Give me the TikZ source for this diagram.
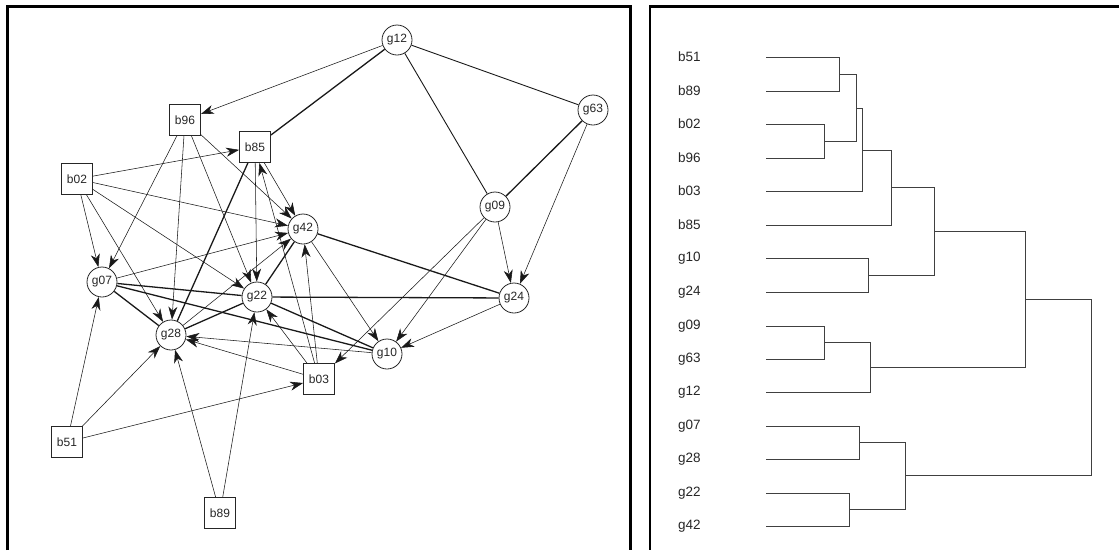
\documentclass[tikz,border=0pt]{standalone}
\usepackage{fontspec}
\setmainfont{Liberation Sans}
\usetikzlibrary{arrows.meta,backgrounds}
\begin{document}
\begin{tikzpicture}[x=1pt,y=-1pt,
 gnode/.style={circle,draw=black!85,line width=0.8pt,fill=white,minimum size=30pt,inner sep=0pt,font=\fontsize{12}{14}\selectfont,text=black!85},
 bnode/.style={rectangle,draw=black!85,line width=0.8pt,fill=white,minimum width=31pt,minimum height=31pt,inner sep=0pt,font=\fontsize{12}{14}\selectfont,text=black!85},
 arr/.style={-{Stealth[length=13pt,width=9pt,inset=4pt]},line width=0.55pt,draw=black!90},
 tie/.style={line width=1.3pt,draw=black!90},
 mtie/.style={line width=0.9pt,draw=black!90},
 dlab/.style={anchor=west,inner sep=0pt,font=\fontsize{13.5}{15}\selectfont,text=black!85},
 dend/.style={line width=0.7pt,draw=black!75},
 frame/.style={line width=3pt,draw=black},
 thinframe/.style={line width=1.8pt,draw=black}
]
\useasboundingbox (0,0) rectangle (1119,550);
% panel frames
\draw[frame] (7,550) -- (7,6.5) -- (630,6.5) -- (630,550);
\draw[frame] (649,6.5) -- (1119,6.5);
\draw[thinframe] (650,6.5) -- (650,550);

% graph nodes
\node[gnode] (g12) at (397,40) {g12};
\node[gnode] (g63) at (593,110) {g63};
\node[gnode] (g09) at (495,207) {g09};
\node[gnode] (g42) at (303,229) {g42};
\node[gnode] (g24) at (514,298) {g24};
\node[gnode] (g22) at (257,297) {g22};
\node[gnode] (g07) at (102,282) {g07};
\node[gnode] (g28) at (171,335) {g28};
\node[gnode] (g10) at (387,354) {g10};
\node[bnode] (b96) at (185,120) {b96};
\node[bnode] (b85) at (255,147) {b85};
\node[bnode] (b02) at (77,179) {b02};
\node[bnode] (b03) at (319,379) {b03};
\node[bnode] (b51) at (67,442) {b51};
\node[bnode] (b89) at (220,513) {b89};

\begin{scope}[on background layer]
% undirected ties
\draw[tie] (g12) -- (b85);
\draw[mtie] (g12) -- (g09);
\draw[mtie] (g12) -- (g63);
\draw[tie] (g63) -- (g09);
\draw[tie] (g42) -- (g24);
\draw[tie] (g22) -- (g24);
\draw[tie] (g22) -- (g10);
\draw[tie] (g07) -- (g22);
\draw[tie] (g07) -- (g10);
\draw[tie] (g07) -- (g28);
\draw[tie] (g28) -- (g22);
\draw[tie] (g28) -- (b85);
\draw[tie] (g22) -- (g42);
% directed ties
\draw[arr] (g12) -- (b96);
\draw[arr] (g63) -- (g24);
\draw[arr] (g09) -- (g24);
\draw[arr] (g09) -- (g10);
\draw[arr] (g09) -- (b03);
\draw[arr] (g42) -- (g10);
\draw[arr] (g24) -- (g10);
\draw[arr] (b03) -- (g42);
\draw[arr] (b03) -- (b85);
\draw[arr] (b85) -- (g42);
\draw[arr] (b96) -- (g42);
\draw[arr] (b02) -- (g42);
\draw[arr] (g07) -- (g42);
\draw[arr] (g28) -- (g42);
\draw[arr] (g10) -- (g28);
\draw[arr] (b03) -- (g28);
\draw[arr] (b03) -- (g22);
\draw[arr] (b89) -- (g22);
\draw[arr] (b89) -- (g28);
\draw[arr] (b51) -- (g28);
\draw[arr] (b51) -- (g07);
\draw[arr] (b51) -- (b03);
\draw[arr] (b02) -- (b85);
\draw[arr] (b02) -- (g07);
\draw[arr] (b02) -- (g28);
\draw[arr] (b02) -- (g22);
\draw[arr] (b96) -- (g07);
\draw[arr] (b96) -- (g28);
\draw[arr] (b96) -- (g22);
\draw[arr] (b85) -- (g22);
\end{scope}

% dendrogram labels
\node[dlab] (lb51) at (678,57) {b51};
\node[dlab] (lb89) at (678,91) {b89};
\node[dlab] (lb02) at (678,124) {b02};
\node[dlab] (lb96) at (678,158) {b96};
\node[dlab] (lb03) at (678,191) {b03};
\node[dlab] (lb85) at (678,225) {b85};
\node[dlab] (lg10) at (678,258) {g10};
\node[dlab] (lg24) at (678,292) {g24};
\node[dlab] (lg09) at (678,326) {g09};
\node[dlab] (lg63) at (678,359) {g63};
\node[dlab] (lg12) at (678,392) {g12};
\node[dlab] (lg07) at (678,426) {g07};
\node[dlab] (lg28) at (678,459) {g28};
\node[dlab] (lg22) at (678,493) {g22};
\node[dlab] (lg42) at (678,526) {g42};

% dendrogram
\draw[dend] (766,57) -- (839,57) -- (839,91) -- (766,91);
\draw[dend] (766,124) -- (824,124) -- (824,158) -- (766,158);
\draw[dend] (839,74) -- (856,74) -- (856,141) -- (824,141);
\draw[dend] (856,108) -- (862,108) -- (862,191) -- (766,191);
\draw[dend] (862,150) -- (891,150) -- (891,225) -- (766,225);
\draw[dend] (766,258) -- (868,258) -- (868,292) -- (766,292);
\draw[dend] (891,187) -- (934,187) -- (934,275) -- (868,275);
\draw[dend] (766,326) -- (824,326) -- (824,359) -- (766,359);
\draw[dend] (824,342) -- (870,342) -- (870,392) -- (766,392);
\draw[dend] (934,231) -- (1025,231) -- (1025,367) -- (870,367);
\draw[dend] (766,426) -- (859,426) -- (859,459) -- (766,459);
\draw[dend] (766,493) -- (849,493) -- (849,526) -- (766,526);
\draw[dend] (859,442) -- (905,442) -- (905,509) -- (849,509);
\draw[dend] (1025,299) -- (1091,299) -- (1091,475) -- (905,475);
\end{tikzpicture}
\end{document}
